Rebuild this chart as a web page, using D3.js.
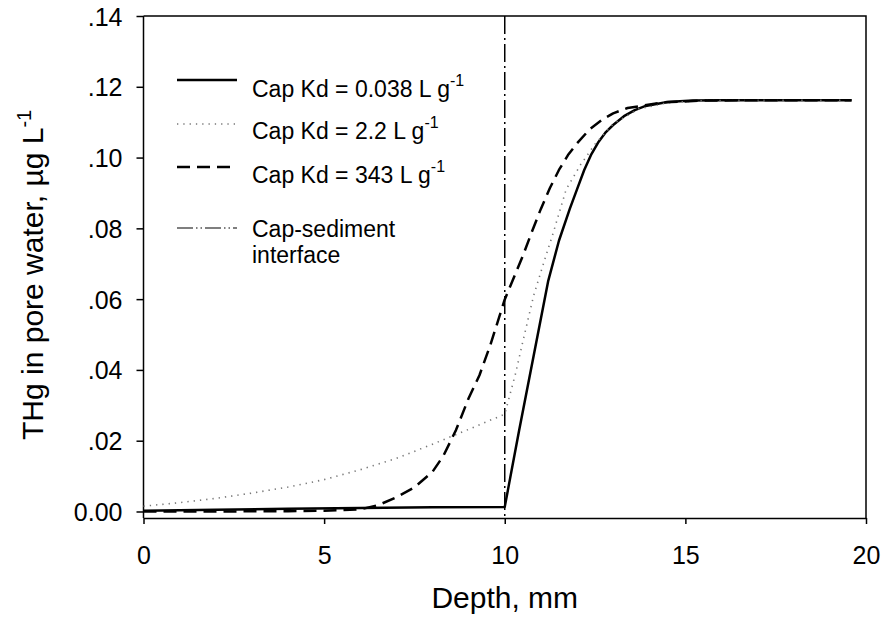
<!DOCTYPE html>
<html>
<head>
<meta charset="utf-8">
<script src="https://cdn.jsdelivr.net/npm/d3@7"></script>
<style>
    body { margin: 0; background: #fff; }
    svg text { font-family: "Liberation Sans", Arial, sans-serif; fill: #000; }
</style>
</head>
<body>
<svg id="chart"></svg>
<script>
// depth (mm) and THg (ug/L)
const depthA = [0, 2, 4, 6, 8, 10, 10.4, 10.8, 11.2, 11.5, 11.8, 12.0, 12.2, 12.4, 12.6, 12.8, 13.0, 13.3, 13.6, 13.9, 14.5, 15.2, 16, 17, 18, 19.6];
const thgA   = [0.0002, 0.0005, 0.0008, 0.0010, 0.0012, 0.0013, 0.023, 0.044, 0.065, 0.0765, 0.0855, 0.091, 0.0965, 0.1010, 0.1045, 0.1072, 0.1092, 0.1117, 0.1134, 0.1146, 0.1157, 0.1161, 0.1162, 0.1162, 0.1162, 0.1162];

const depthB = [0, 1, 2, 3, 4, 5, 6, 7, 8, 9, 10, 10.3, 10.5, 10.8, 11.1, 11.35, 11.7, 12.1, 12.5, 13.0, 13.7, 14.5, 15.5, 17, 19.6];
const thgB   = [0.0015, 0.0025, 0.0037, 0.0052, 0.0069, 0.0090, 0.0118, 0.0150, 0.0190, 0.0232, 0.0275, 0.039, 0.048, 0.061, 0.071, 0.079, 0.091, 0.098, 0.1038, 0.1095, 0.1137, 0.1155, 0.1161, 0.1162, 0.1162];

const depthC = [0, 2, 4, 5, 6, 6.5, 7, 7.5, 8, 8.3, 8.65, 9, 9.3, 9.6, 10, 10.5, 10.75, 11, 11.25, 11.5, 11.75, 12, 12.35, 12.7, 13.0, 13.4, 14.4, 15.5, 17, 19.6];
const thgC   = [0, 0, 0.0001, 0.0002, 0.0006, 0.0018, 0.0040, 0.0068, 0.0112, 0.0157, 0.0230, 0.0320, 0.0385, 0.0470, 0.0599, 0.0722, 0.0790, 0.0855, 0.0914, 0.0965, 0.1007, 0.1040, 0.1080, 0.1107, 0.1125, 0.1140, 0.1156, 0.1161, 0.1162, 0.1162];

const interfaceDepth = 10;
const kdLabels = ['0.038', '2.2', '343'];
const xTicks = [0, 5, 10, 15, 20];
const yTicks = [0, 0.02, 0.04, 0.06, 0.08, 0.10, 0.12, 0.14];

const width = 886, height = 623;
const margin = { left: 143.5, right: 866, top: 16, bottom: 518 };

const svg = d3.select('#chart')
    .attr('width', width)
    .attr('height', height);

const xscale = d3.scaleLinear().domain([0, 20]).range([margin.left, margin.right]);
const yscale = d3.scaleLinear().domain([-0.00184, 0.14]).range([margin.bottom, margin.top]);

// frame (top + right)
svg.append('path')
    .attr('d', `M${margin.left},${margin.top}H${margin.right}V${margin.bottom}`)
    .attr('fill', 'none')
    .attr('stroke', '#000')
    .attr('stroke-width', 1.5);

const xaxis = d3.axisBottom(xscale)
    .tickValues(xTicks)
    .tickFormat(d3.format('d'))
    .tickSize(6)
    .tickSizeOuter(0)
    .tickPadding(22);
const yaxis = d3.axisLeft(yscale)
    .tickValues(yTicks)
    .tickFormat(d => d === 0 ? '0.00' : d3.format('.2f')(d).replace(/^0/, ''))
    .tickSize(7)
    .tickSizeOuter(0)
    .tickPadding(14);

const gx = svg.append('g')
    .attr('transform', `translate(0,${margin.bottom})`)
    .call(xaxis);
const gy = svg.append('g')
    .attr('transform', `translate(${margin.left},0)`)
    .call(yaxis);

[gx, gy].forEach(g => {
    g.select('.domain').attr('stroke', '#000').attr('stroke-width', 1.5);
    g.selectAll('.tick line').attr('stroke', '#000').attr('stroke-width', 1.5);
    g.selectAll('.tick text')
        .attr('fill', '#000')
        .style('font-family', '"Liberation Sans", Arial, sans-serif')
        .style('font-size', '25px');
});
gy.select('.domain').attr('d', `M0,${margin.top}V${margin.bottom}`);
gy.selectAll('.tick text').attr('dy', '0.36em');

// interface line
svg.append('line')
    .attr('x1', xscale(interfaceDepth)).attr('x2', xscale(interfaceDepth))
    .attr('y1', margin.top).attr('y2', margin.bottom)
    .attr('stroke', '#000')
    .attr('stroke-width', 1.5)
    .attr('stroke-dasharray', '18,4,2,4');

const series = [
    { depth: depthA, thg: thgA, color: '#000', w: 2.5, dash: null },
    { depth: depthB, thg: thgB, color: '#777', w: 1.6, dash: '1.3,5' },
    { depth: depthC, thg: thgC, color: '#000', w: 2.5, dash: '13,7' },
];

const line = d3.line()
    .x(d => xscale(d[0]))
    .y(d => yscale(d[1]));

series.forEach(s => {
    svg.append('path')
        .datum(d3.zip(s.depth, s.thg))
        .attr('d', line)
        .attr('fill', 'none')
        .attr('stroke', s.color)
        .attr('stroke-width', s.w)
        .attr('stroke-linejoin', 'round')
        .attr('stroke-dasharray', s.dash);
});

// legend
const legX1 = 177, legX2 = 237, legTextX = 252;
const legLineY = [80, 124, 167];
const legTextY = [97, 139, 183];
series.forEach((s, i) => {
    svg.append('line')
        .attr('x1', legX1).attr('x2', legX2)
        .attr('y1', legLineY[i]).attr('y2', legLineY[i])
        .attr('stroke', s.color)
        .attr('stroke-width', s.w)
        .attr('stroke-dasharray', s.dash);
    const t = svg.append('text')
        .attr('x', legTextX)
        .attr('y', legTextY[i])
        .style('font-size', '23px');
    t.append('tspan').text(`Cap Kd = ${kdLabels[i]} L g`);
    t.append('tspan').attr('dy', -11).style('font-size', '16px').text('-1');
});
svg.append('line')
    .attr('x1', legX1).attr('x2', legX2)
    .attr('y1', 228).attr('y2', 228)
    .attr('stroke', '#000')
    .attr('stroke-width', 1.2)
    .attr('stroke-dasharray', '16,3,1.5,3,1.5,3');
svg.append('text')
    .attr('x', legTextX).attr('y', 237)
    .style('font-size', '23px')
    .text('Cap-sediment');
svg.append('text')
    .attr('x', legTextX).attr('y', 263)
    .style('font-size', '23px')
    .text('interface');

// axis titles
svg.append('text')
    .attr('x', (margin.left + margin.right) / 2)
    .attr('y', 608)
    .attr('text-anchor', 'middle')
    .style('font-size', '30px')
    .text('Depth, mm');

const ylab = svg.append('text')
    .attr('transform', 'translate(43,440) rotate(-90)')
    .style('font-size', '30px');
ylab.append('tspan').text('THg in pore water, \u00b5g L');
ylab.append('tspan').attr('dy', -12).style('font-size', '20px').text('-1');
</script>
</body>
</html>
